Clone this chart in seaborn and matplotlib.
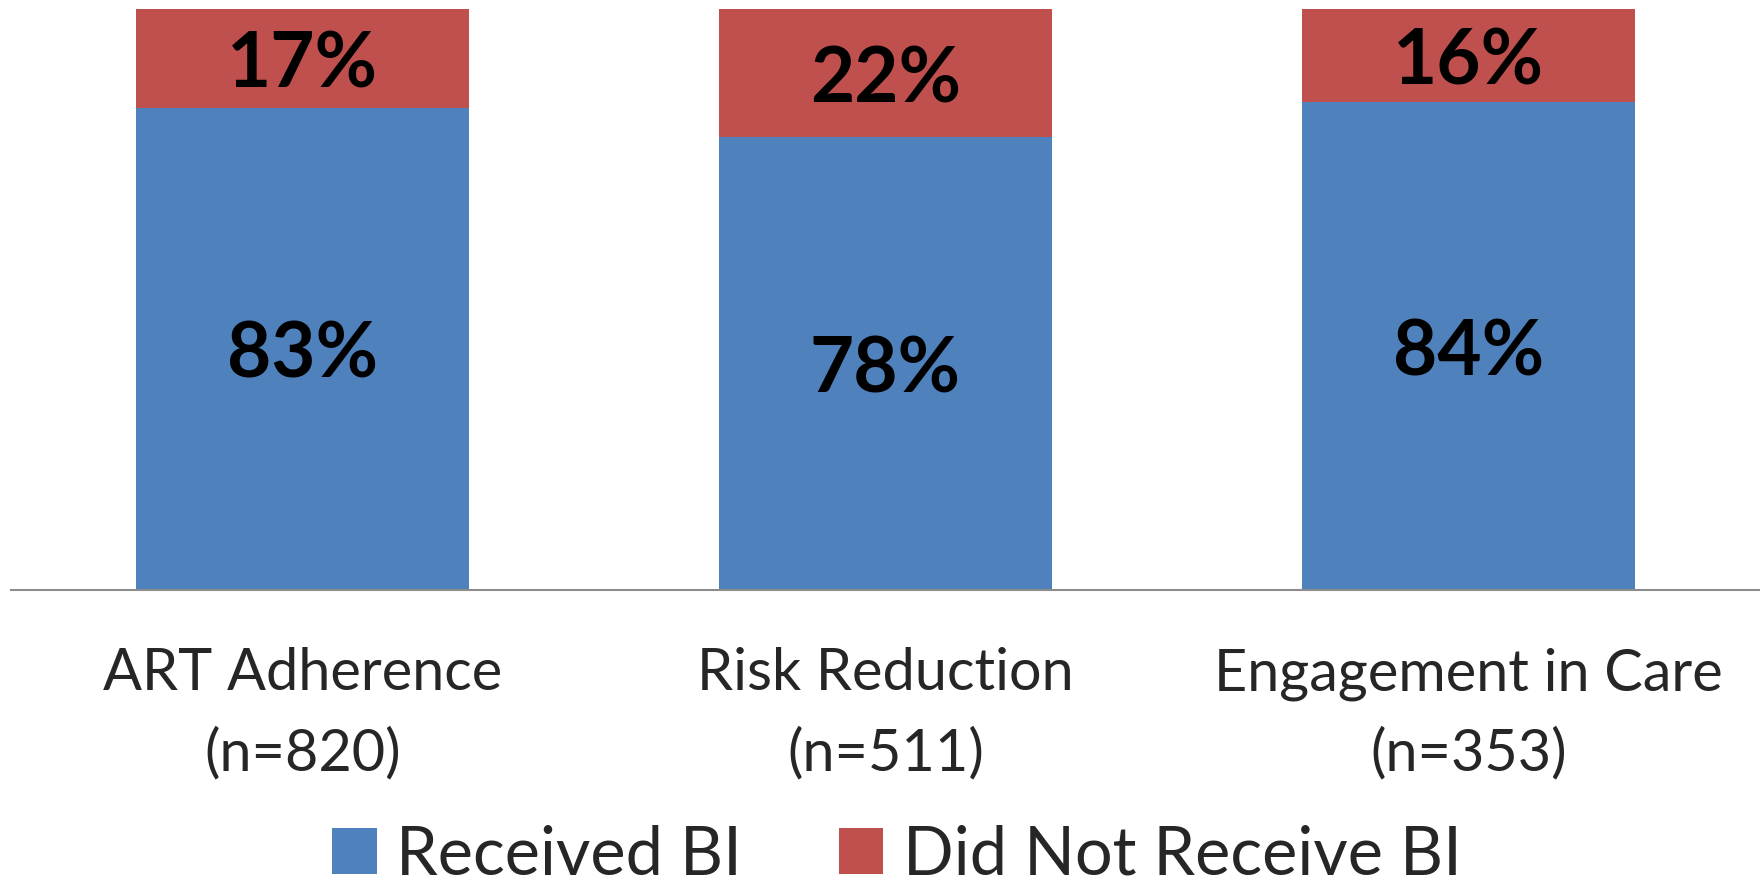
import matplotlib
matplotlib.use("Agg")
import matplotlib.pyplot as plt
import seaborn as sns
import pandas as pd
from matplotlib.patches import Patch

# Outcome categories and shares of participants (%)
categories = ["ART Adherence", "Risk Reduction", "Engagement in Care"]
sample_sizes = [820, 511, 353]
received_bi = [83, 78, 84]
not_received_bi = [17, 22, 16]
series_names = ["Received BI", "Did Not Receive BI"]

BLUE = "#4F81BD"
RED = "#C0504D"

sns.set_theme(style="white")
plt.rcParams["font.family"] = ["Lato", "DejaVu Sans"]

df = pd.DataFrame({
    "category": categories,
    "received": received_bi,
    "not_received": not_received_bi,
})
df["total"] = df["received"] + df["not_received"]

fig = plt.figure(figsize=(17.6, 8.82), dpi=100)
ax = fig.add_axes([0.00625, 0.331, 0.99375, 0.6585])

# Stacked bars: full-height red bar underneath, blue share drawn over it
sns.barplot(data=df, x="category", y="total", color=RED, width=0.57,
            saturation=1, ax=ax, linewidth=0)
sns.barplot(data=df, x="category", y="received", color=BLUE, width=0.57,
            saturation=1, ax=ax, linewidth=0)

ax.set_ylim(0, 100)
ax.set_xlim(-0.5, len(categories) - 0.5)

# Value labels centred in each segment
for i, (r, n) in enumerate(zip(received_bi, not_received_bi)):
    for y, val in ((r / 2, r), (r + n / 2, n)):
        ax.annotate(f"{val}%", xy=(i, y), xytext=(0, -5),
                    textcoords="offset points", ha="center", va="center",
                    fontsize=55, fontweight="bold", color="black")

ax.set_xlabel("")
ax.set_ylabel("")
ax.set_yticks([])
ax.set_xticks(range(len(categories)))
ax.set_xticklabels([f"{c}\n(n={n})" for c, n in zip(categories, sample_sizes)],
                   fontsize=41.5, linespacing=1.6)
ax.tick_params(axis="x", length=0, pad=41)

for side in ["top", "left", "right"]:
    ax.spines[side].set_visible(False)
ax.spines["bottom"].set_color("#8c8c8c")
ax.spines["bottom"].set_linewidth(1.5)

handles = [Patch(facecolor=BLUE, edgecolor="none"),
           Patch(facecolor=RED, edgecolor="none")]
fig.legend(handles, series_names, loc="center", ncol=2,
           bbox_to_anchor=(0.5096, 0.03), frameon=False, fontsize=48,
           handlelength=0.67, handleheight=0.67, handletextpad=0.29,
           columnspacing=1.45, borderpad=0)

fig.savefig("out.png", dpi=100, facecolor="white")
